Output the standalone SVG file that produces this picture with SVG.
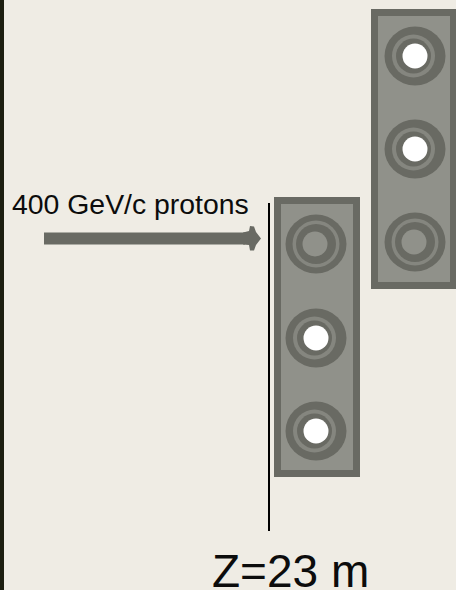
<svg xmlns="http://www.w3.org/2000/svg" width="456" height="590" viewBox="0 0 456 590">
<style>
.panel{fill:#90918a;stroke:#696a63;stroke-width:7}
.ro{fill:#696a63}
.rl{fill:#85867f}
.hole{fill:#fff}
.core{fill:#90918a}
text{font-family:"Liberation Sans",Arial,sans-serif;fill:#0c0c0c}
</style>
<defs>
<g id="ring-open"><ellipse class="ro" rx="30.500" ry="29.500"/><circle class="rl" cx="-1.500" r="21.500"/><circle class="ro" cx="-1.500" r="17.500"/><circle class="hole" r="12.500"/></g>
<g id="ring-closed"><ellipse class="ro" rx="30.500" ry="29.500"/><circle class="rl" r="23.500"/><circle class="ro" r="20"/><circle class="core" cx="-1" r="12.500"/></g>
</defs>
<rect width="456" height="590" fill="#efece4"/>
<rect width="4" height="590" fill="#1c1e10"/>
<g id="connectors">
<path d="M44 232.500H245V244.500H44Z" fill="#696a63"/>
<path d="M243 232.500L249 231L250 226L254 226.500L256 232L261 238.500L256 245L254 250.500L250 250.500L249 245L243 244.500Z" fill="#696a63"/>
<line x1="269" y1="203" x2="269" y2="531" stroke="#000" stroke-width="2"/>
</g>
<g id="panel-left">
<rect class="panel" x="277.500" y="200.500" width="79" height="273"/>
<use href="#ring-closed" x="316" y="244"/>
<use href="#ring-open" x="316" y="338"/>
<use href="#ring-open" x="316" y="431"/>
</g>
<g id="panel-right">
<rect class="panel" x="374.500" y="12.500" width="79" height="273"/>
<use href="#ring-open" x="415" y="56"/>
<use href="#ring-open" x="415" y="149"/>
<use href="#ring-closed" x="415" y="242"/>
</g>
<text id="label-protons" x="12" y="214" font-size="28.400">400 GeV/c protons</text>
<text id="label-z" x="212" y="586.500" font-size="46">Z=23 m</text>
</svg>
